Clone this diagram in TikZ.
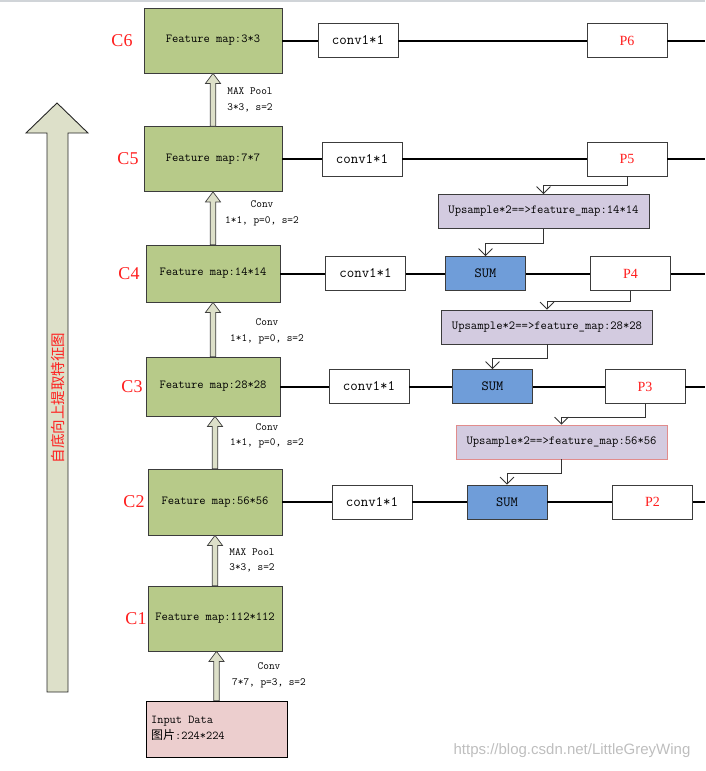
\documentclass[tikz,border=0pt]{standalone}
\usepackage{fontspec}
\newfontfamily\cjk{Noto Sans CJK SC}
\newfontfamily\tnr{Liberation Serif}
\newfontfamily\arialf{Liberation Sans}
\usetikzlibrary{arrows.meta,calc}
\definecolor{fmgreen}{RGB}{183,202,137}
\definecolor{boxborder}{RGB}{60,60,60}
\definecolor{lavender}{RGB}{211,203,224}
\definecolor{sumblue}{RGB}{111,157,217}
\definecolor{inpink}{RGB}{236,206,206}
\definecolor{palearrow}{RGB}{221,224,201}
\definecolor{redtext}{RGB}{255,30,30}
\definecolor{upred}{RGB}{225,140,140}
\definecolor{topgray}{RGB}{208,212,216}
\definecolor{wmgray}{RGB}{190,190,190}
\newcommand\blockarrow[2]{%
  \draw[blockup] let \p1=(#1), \p2=(#2) in
    (\x1-2.75pt,\y1) -- (\x1-2.75pt,\y2-10pt) -- (\x1-7.5pt,\y2-10pt) -- (\x1,\y2)
    -- (\x1+7.5pt,\y2-10pt) -- (\x1+2.75pt,\y2-10pt) -- (\x1+2.75pt,\y1) -- cycle;}
\begin{document}
\begin{tikzpicture}[x=1pt,y=-1pt,
  fmap/.style={draw=boxborder, fill=fmgreen, line width=0.8pt, inner sep=0pt, font=\fontsize{12.2}{14}\selectfont\ttfamily},
  convbox/.style={draw=boxborder, fill=white, line width=0.8pt, inner sep=0pt, minimum width=80pt, minimum height=34pt, font=\fontsize{14.5}{16}\selectfont\ttfamily},
  sumbox/.style={draw=boxborder, fill=sumblue, line width=0.8pt, inner sep=0pt, minimum width=80pt, minimum height=34pt, font=\fontsize{14}{16}\selectfont\ttfamily},
  pbox/.style={draw=boxborder, fill=white, line width=0.8pt, inner sep=0pt, minimum width=80pt, minimum height=34pt, text=redtext, font=\fontsize{14}{16}\selectfont\tnr},
  upbox/.style={draw=boxborder, fill=lavender, line width=0.8pt, inner sep=0pt, minimum width=211pt, minimum height=34pt, font=\fontsize{12.3}{14}\selectfont\ttfamily},
  clabel/.style={text=redtext, inner sep=0pt, font=\fontsize{18}{20}\selectfont\tnr},
  oplabel/.style={align=center, inner sep=0pt, font=\fontsize{11}{15.5}\selectfont\ttfamily},
  rowline/.style={line width=2pt, draw=black},
  elbow/.style={line width=0.8pt, draw=black!80, -{Straight Barb[length=7pt,width=14pt]}},
  blockup/.style={draw=black!75, fill=palearrow, line width=0.7pt}
]
\useasboundingbox (0,0) rectangle (705,771);
\fill[topgray] (0,0) rectangle (705,2);

% left big arrow
\draw[fill=palearrow, draw=black!85, line width=0.9pt]
  (47,692) -- (47,133) -- (26,133) -- (57,103) -- (88,133) -- (68,133) -- (68,692) -- cycle;
\node[rotate=90, text=redtext, inner sep=0pt, font=\fontsize{14.5}{16}\selectfont\cjk] (lefttxt) at (58,398) {自底向上提取特征图};

% feature map column
\node[fmap, minimum width=138pt, minimum height=65pt] (c6) at (213,40.5) {Feature map:3*3};
\node[fmap, minimum width=138pt, minimum height=65pt] (c5) at (213,159) {Feature map:7*7};
\node[fmap, minimum width=134pt, minimum height=57pt] (c4) at (213,273.5) {Feature map:14*14};
\node[fmap, minimum width=134pt, minimum height=59pt] (c3) at (213,386.5) {Feature map:28*28};
\node[fmap, minimum width=134pt, minimum height=66pt] (c2) at (215,502) {Feature map:56*56};
\node[fmap, minimum width=134pt, minimum height=65pt] (c1) at (215,618.5) {Feature map:112*112};
\node[draw=black, fill=inpink, line width=0.8pt, minimum width=141pt, minimum height=56pt, inner sep=0pt] (inp) at (216.5,729) {};
\node[anchor=west, align=left, inner sep=0pt, font=\fontsize{12}{16}\selectfont\ttfamily] (inptxt) at (151,728) {Input Data\\{\cjk 图片}:224*224};

% C labels
\node[clabel] (l6) at (122,40.5) {C6};
\node[clabel] (l5) at (128,159) {C5};
\node[clabel] (l4) at (129,273.5) {C4};
\node[clabel] (l3) at (132,386.5) {C3};
\node[clabel] (l2) at (134,502) {C2};
\node[clabel] (l1) at (136,618.5) {C1};

% block arrows
\blockarrow{inp.north}{c1.south}
\blockarrow{c1.north}{c2.south}
\blockarrow{c2.north}{c3.south}
\blockarrow{c3.north}{c4.south}
\blockarrow{c4.north}{c5.south}
\blockarrow{c5.north}{c6.south}

% operation labels
\node[oplabel] (o6) at (250,100) {MAX Pool\\3*3, s=2};
\node[oplabel] (o5) at (262,213.5) {Conv\\1*1, p=0, s=2};
\node[oplabel] (o4) at (267,331.5) {Conv\\1*1, p=0, s=2};
\node[oplabel] (o3) at (267,436) {Conv\\1*1, p=0, s=2};
\node[oplabel] (o2) at (252,560.5) {MAX Pool\\3*3, s=2};
\node[oplabel] (o1) at (269,675.5) {Conv\\7*7, p=3, s=2};

% conv1*1 boxes
\node[convbox] (cv6) at (358,40.5) {conv1*1};
\node[convbox] (cv5) at (362,159) {conv1*1};
\node[convbox] (cv4) at (365.5,273.5) {conv1*1};
\node[convbox] (cv3) at (369,386.5) {conv1*1};
\node[convbox] (cv2) at (372,502) {conv1*1};

% SUM boxes
\node[sumbox] (s4) at (485.5,273.5) {SUM};
\node[sumbox] (s3) at (492.5,386.5) {SUM};
\node[sumbox] (s2) at (507,502) {SUM};

% P boxes
\node[pbox] (p6) at (627,40.5) {P6};
\node[pbox] (p5) at (627,159) {P5};
\node[pbox] (p4) at (630.5,273.5) {P4};
\node[pbox] (p3) at (645,386.5) {P3};
\node[pbox] (p2) at (652.5,502) {P2};

% upsample boxes
\node[upbox] (up14) at (543.5,211.5) {Upsample*2==>feature\_map:14*14};
\node[upbox] (up28) at (547,327) {Upsample*2==>feature\_map:28*28};
\node[upbox, draw=upred] (up56) at (561.5,442) {Upsample*2==>feature\_map:56*56};

% right edge coordinates
\coordinate (e6) at (705,40.5);
\coordinate (e5) at (705,159);
\coordinate (e4) at (705,273.5);
\coordinate (e3) at (705,386.5);
\coordinate (e2) at (705,502);

% row lines
\draw[rowline] (c6) -- (cv6) (cv6) -- (p6) (p6) -- (e6);
\draw[rowline] (c5) -- (cv5) (cv5) -- (p5) (p5) -- (e5);
\draw[rowline] (c4) -- (cv4) (cv4) -- (s4) (s4) -- (p4) (p4) -- (e4);
\draw[rowline] (c3) -- (cv3) (cv3) -- (s3) (s3) -- (p3) (p3) -- (e3);
\draw[rowline] (c2) -- (cv2) (cv2) -- (s2) (s2) -- (p2) (p2) -- (e2);

% top-down elbows
\draw[elbow] (p5.south) -- ++(0,9) -| (up14.north);
\draw[elbow] (up14.south) -- ++(0,14) -| (s4.north);
\draw[elbow] (p4.south) -- ++(0,10) -| (up28.north);
\draw[elbow] (up28.south) -- ++(0,14) -| (s3.north);
\draw[elbow] (p3.south) -- ++(0,13) -| (up56.north);
\draw[elbow] (up56.south) -- ++(0,14) -| (s2.north);

% watermark
\node[text=wmgray, inner sep=0pt, font=\fontsize{15}{17}\selectfont\arialf] (wm) at (572,751) {https://blog.csdn.net/LittleGreyWing};
\end{tikzpicture}
\end{document}
